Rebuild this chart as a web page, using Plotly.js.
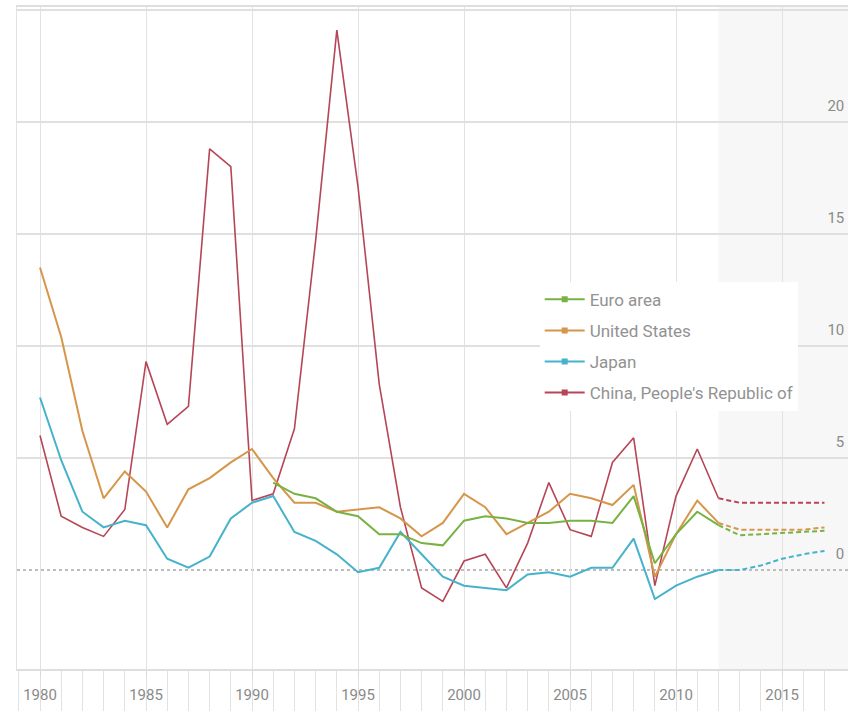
<!DOCTYPE html>
<html><head><meta charset="utf-8">
<script src="https://cdn.plot.ly/plotly-3.0.1.min.js"></script>
<style>html,body{margin:0;padding:0;background:#fff}#chart{width:848px;height:711px}</style>
</head><body><div id="chart"></div>
<script>
const years = [1980,1981,1982,1983,1984,1985,1986,1987,1988,1989,1990,1991,1992,1993,1994,1995,1996,1997,1998,1999,2000,2001,2002,2003,2004,2005,2006,2007,2008,2009,2010,2011,2012,2013,2014,2015,2016,2017];
const euroArea = [null,null,null,null,null,null,null,null,null,null,null,3.9,3.4,3.2,2.6,2.4,1.6,1.6,1.2,1.1,2.2,2.4,2.3,2.1,2.1,2.2,2.2,2.1,3.3,0.3,1.6,2.6,2.0,1.55,1.6,1.65,1.7,1.75];
const unitedStates = [13.5,10.4,6.2,3.2,4.4,3.5,1.9,3.6,4.1,4.8,5.4,4.1,3.0,3.0,2.6,2.7,2.8,2.3,1.5,2.1,3.4,2.8,1.6,2.1,2.6,3.4,3.2,2.9,3.8,-0.3,1.6,3.1,2.1,1.8,1.8,1.8,1.8,1.9];
const japan = [7.7,4.9,2.6,1.9,2.2,2.0,0.5,0.1,0.6,2.3,3.0,3.3,1.7,1.3,0.7,-0.1,0.1,1.7,0.7,-0.3,-0.7,-0.8,-0.9,-0.2,-0.1,-0.3,0.1,0.1,1.4,-1.3,-0.7,-0.3,0.0,0.0,0.2,0.5,0.7,0.85];
const china = [6.0,2.4,1.9,1.5,2.7,9.3,6.5,7.3,18.8,18.0,3.1,3.4,6.3,14.7,24.1,17.1,8.3,2.8,-0.8,-1.4,0.4,0.7,-0.8,1.2,3.9,1.8,1.5,4.8,5.9,-0.7,3.3,5.4,3.2,3.0,3.0,3.0,3.0,3.0];
const seriesNames = ["Euro area","United States","Japan","China, People's Republic of"];
const seriesColors = ["#77b243","#d6964a","#46b2cb","#b64656"];
const seriesValues = [euroArea, unitedStates, japan, china];
const forecastStart = 2012;
const yTickVals = [0,5,10,15,20,25];
const yTickText = ["0","5","10","15","20",""];
const xTickVals = [1980,1985,1990,1995,2000,2005,2010,2015];

const FONT = "Roboto,'Liberation Sans',Arial,sans-serif";

const traces = [];
// legend-only entries
seriesNames.forEach((n,i)=>{
  traces.push({x:[null],y:[null],name:n,legendgroup:'g'+i,mode:'lines+markers',
    line:{color:seriesColors[i],width:2},marker:{symbol:'square',size:6,color:seriesColors[i]},
    hoverinfo:'skip'});
});
// data traces
[3,1,2,0].forEach(i=>{
  const v = seriesValues[i];
  const xs=[],ys=[],xf=[],yf=[];
  years.forEach((yr,k)=>{
    if(yr<=forecastStart){xs.push(yr);ys.push(v[k]);}
    if(yr>=forecastStart){xf.push(yr);yf.push(v[k]);}
  });
  const w = i===3 ? 1.6 : 2;
  traces.push({x:xs,y:ys,mode:'lines',showlegend:false,line:{color:seriesColors[i],width:w}});
  traces.push({x:xf,y:yf,mode:'lines',showlegend:false,line:{color:seriesColors[i],width:2,dash:'5px,3px'}});
});

const layout = {
  width:848,height:711,
  margin:{l:17,r:0,t:7,b:42,pad:0},
  paper_bgcolor:'#ffffff',plot_bgcolor:'#ffffff',
  font:{family:FONT,color:'#8a8a8a',size:13},
  showlegend:true,
  legend:{x:0.629,y:0.585,xanchor:'left',yanchor:'top',bgcolor:'#ffffff',borderwidth:0,
    traceorder:'grouped',tracegroupgap:6,itemwidth:40,
    font:{family:FONT,size:17,color:'#929292'}},
  xaxis:{range:[1978.915,2018.11],tickvals:xTickVals,ticks:'outside',ticklen:6,tickcolor:'#d8d8d8',
    showgrid:true,gridcolor:'#e2e2e2',gridwidth:1,zeroline:false,
    showline:true,mirror:true,linecolor:'#dedede',linewidth:2,
    minor:{dtick:1,ticks:'outside',ticklen:42,tickcolor:'#e2e2e2',showgrid:false},
    tickfont:{family:FONT,size:15,color:'#8a8a8a'},ticklabelstandoff:5},
  yaxis:{range:[-4.42,25.13],tickvals:yTickVals,ticktext:yTickText.map(t=>t?t+'\u00a0':t),side:'right',
    ticklabelposition:'inside',ticks:'',ticklabelshift:-16,
    showgrid:true,gridcolor:'#e0e0e0',gridwidth:2,
    zeroline:true,zerolinecolor:'rgba(0,0,0,0)',
    showline:true,mirror:true,linecolor:'#e2e2e2',linewidth:1,
    tickfont:{family:FONT,size:15,color:'#8a8a8a'}},
  shapes:[
    {type:'rect',xref:'x',yref:'paper',x0:forecastStart,x1:2018.11,y0:0,y1:1,fillcolor:'#f7f7f7',line:{width:0},layer:'below'},
    {type:'line',xref:'paper',yref:'y',x0:0,x1:1,y0:0,y1:0,line:{color:'#bdbdbd',width:2,dash:'dot'},layer:'below'}
  ]
};
Plotly.newPlot('chart',traces,layout,{displayModeBar:false,staticPlot:true});
</script></body></html>
